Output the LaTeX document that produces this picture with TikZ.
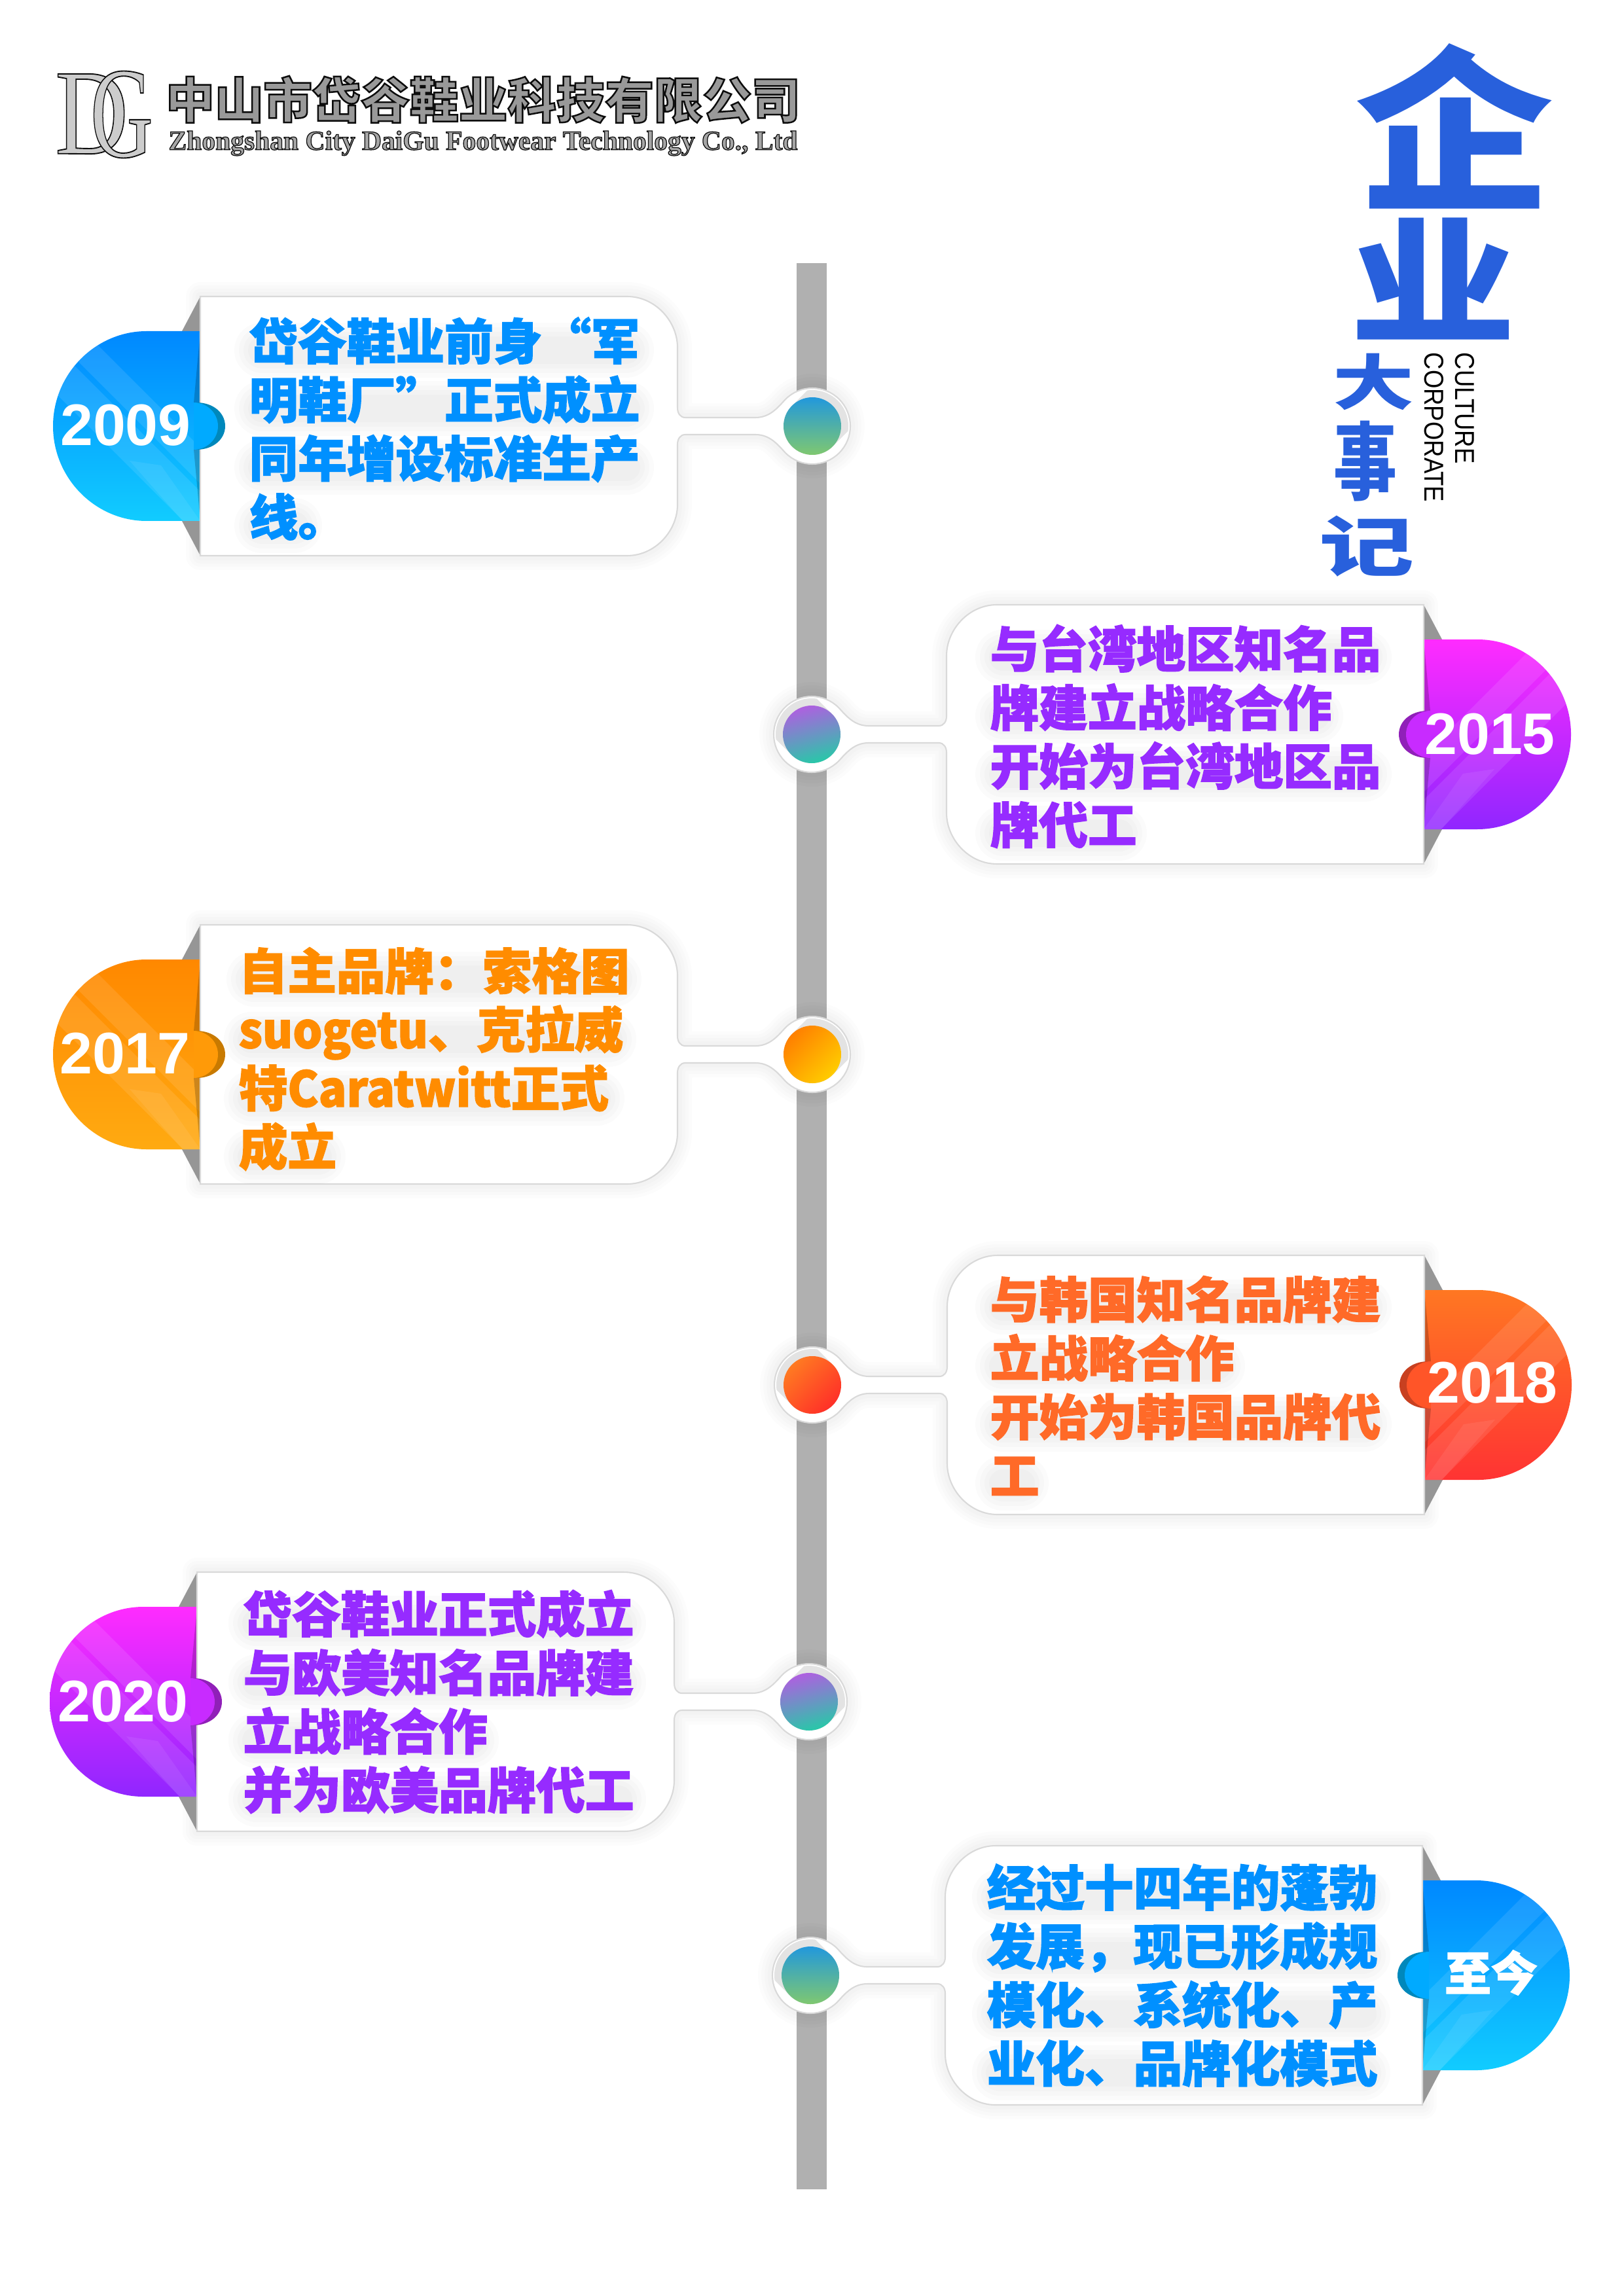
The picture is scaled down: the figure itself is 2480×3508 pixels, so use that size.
\documentclass[tikz,border=0pt]{standalone}
\usepackage{fontspec}
\setmainfont{Liberation Sans}
\newfontfamily\cjk{Noto Sans CJK SC}[BoldFeatures={FakeBold=2}]
\newfontfamily\logoen{Liberation Serif}
\newfontfamily\cjkplain{Noto Sans CJK SC}
\newcommand{\bev}[2][0.45]{\special{pdf:code q 2 Tr #1 w 0.05 0.05 0.05 RG}#2\special{pdf:code Q}}
\definecolor{spinec}{HTML}{B0B0B0}
\definecolor{titleblue}{HTML}{2860DC}
\definecolor{blueA}{HTML}{0088FF}\definecolor{blueB}{HTML}{11CCFF}\definecolor{blueT}{HTML}{0090FF}\definecolor{blueD}{HTML}{0088BB}\definecolor{blueM}{HTML}{00AAFF}
\definecolor{purA}{HTML}{FF2BFF}\definecolor{purB}{HTML}{9026FF}\definecolor{purT}{HTML}{962BFF}\definecolor{purD}{HTML}{9020B8}\definecolor{purM}{HTML}{C82BFF}
\definecolor{oraA}{HTML}{FF8800}\definecolor{oraB}{HTML}{FFAA11}\definecolor{oraT}{HTML}{FF8C00}\definecolor{oraD}{HTML}{C87A00}\definecolor{oraM}{HTML}{FF9A08}
\definecolor{redA}{HTML}{FF7722}\definecolor{redB}{HTML}{FF3333}\definecolor{redT}{HTML}{FF6A28}\definecolor{redD}{HTML}{C84020}\definecolor{redM}{HTML}{FF5528}
\definecolor{bubA}{HTML}{2298DC}\definecolor{bubB}{HTML}{7FC870}
\definecolor{bubC}{HTML}{AE60E0}\definecolor{bubD}{HTML}{28C8A8}
\definecolor{bubE}{HTML}{FF8000}\definecolor{bubF}{HTML}{FFCC00}
\definecolor{bubG}{HTML}{FF7A22}\definecolor{bubH}{HTML}{FF3028}
\tikzset{
 bubblue/.style={top color=bubA,bottom color=bubB},
 bubpur/.style={top color=bubC,bottom color=bubD},
 bubora/.style={top color=bubE,bottom color=bubF},
 bubred/.style={top color=bubG,bottom color=bubH}
}
\def\cardshape{(0,-198) -- (652,-198) .. controls (695,-198) and (729,-160) .. (729,-120) -- (729,-28) .. controls (729,-20) and (733,-13) .. (741,-13) -- (848,-13) .. controls (870,-13) and (882,-28) .. (894,-41) arc[start angle=225,end angle=495,radius=58] .. controls (882,28) and (870,13) .. (848,13) -- (741,13) .. controls (733,13) and (729,20) .. (729,28) -- (729,120) .. controls (729,160) and (695,198) .. (652,198) -- (0,198) -- cycle}
\def\tabshape{(0,-145) -- (-82,-145) .. controls (-160,-145) and (-225,-80) .. (-225,0) .. controls (-225,80) and (-160,145) .. (-82,145) -- (0,145) -- cycle}
\newcommand{\band}[3]{\fill[#3] (-300,#1-300) -- (0,#1) -- (0,#2) -- (-300,#2-300) -- cycle;}
% #1 scale sign, #2 x of card edge, #3 y centre, #4 top colour, #5 bottom colour, #6 dark, #7 mid, #8 bubble style, #9 bubble shading angle
\newcommand{\card}[9]{%
\begin{scope}[shift={(#2,#3)},xscale=#1]
 \foreach \w in {44,34,24,14}{\draw[black,opacity=.012,line width=\w*.24pt,line join=round] \cardshape;}
 \fill[spinec!85!black] (0,-198) -- (-28,-145) -- (0,-145) -- cycle;
 \fill[spinec!85!black] (0,198) -- (-28,145) -- (0,145) -- cycle;
 \shade[top color=#4,bottom color=#5] \tabshape;
 \begin{scope}
  \clip \tabshape;
  \band{33}{88}{white,opacity=.1}
  \band{100}{171}{white,opacity=.1}
  \fill[white,opacity=.07] (-108,53) -- (-27,145) -- (0,145) -- (-60,60) -- cycle;
  \fill[black,opacity=.2] (0,36) -- (-10,36) -- (0,145) -- cycle;
  \fill[black,opacity=.2] (0,-36) -- (-10,-36) -- (0,-145) -- cycle;
 \end{scope}
 \path[fill=white,draw=black!15,line width=.5pt] \cardshape;
 \fill[#6] (-6,-36) .. controls (20,-36) and (38,-20) .. (38,0) .. controls (38,20) and (20,36) .. (-6,36) -- cycle;
 \fill[#7] (-10,-36) .. controls (10,-36) and (27,-20) .. (27,0) .. controls (27,20) and (10,36) .. (-10,36) -- cycle;
 \begin{scope}
  \clip (935,0) circle[radius=55];
  \draw[black!11,line width=88*.24pt,line cap=round] (935,0) -- (975,-40);
 \end{scope}
 \shade[#8,shading angle=#9] (935,0) circle[radius=44];
\end{scope}}
\newcommand{\tbar}[3]{\foreach \w in {84,70,56,42}{\draw[black,opacity=.014,line width=\w*.24pt,line cap=round] (#1+20,#3+14) -- (#2-20,#3+14);}}
\tikzset{
 cardtext/.style={anchor=west,align=left,inner sep=0pt,font=\cjk\bfseries\fontsize{17.9}{21.5}\selectfont},
 yeartext/.style={anchor=center,inner sep=0pt,text=white,font=\bfseries\fontsize{21.5}{24}\selectfont},
 brush/.style={anchor=center,inner sep=0pt,text=titleblue}
}
\begin{document}
\begin{tikzpicture}[x=.24pt,y=-.24pt]
\useasboundingbox (0,0) rectangle (2480,3508);
\fill[white] (0,0) rectangle (2480,3508);
\fill[spinec] (1217,402) rectangle (1263,3345);

\card{1}{306}{651}{blueA}{blueB}{blueD}{blueM}{bubblue}{0}
\card{-1}{2175}{1122}{purA}{purB}{purD}{purM}{bubpur}{15}
\card{1}{306}{1611}{oraA}{oraB}{oraD}{oraM}{bubora}{45}
\card{-1}{2176}{2116}{redA}{redB}{redD}{redM}{bubred}{45}
\card{1}{301}{2600}{purA}{purB}{purD}{purM}{bubpur}{15}
\card{-1}{2173}{3018}{blueA}{blueB}{blueD}{blueM}{bubblue}{0}

\tbar{380}{977}{521}\tbar{380}{977}{610}\tbar{380}{977}{700}\tbar{380}{470}{789}
\tbar{1512}{2104}{990}\tbar{1512}{2030}{1080}\tbar{1512}{2104}{1169}\tbar{1512}{1730}{1259}
\tbar{368}{958}{1482}\tbar{364}{950}{1574}\tbar{364}{932}{1664}\tbar{364}{506}{1753}
\tbar{1512}{2104}{1983}\tbar{1512}{1880}{2073}\tbar{1512}{2104}{2162}\tbar{1512}{1580}{2252}
\tbar{371}{965}{2466}\tbar{371}{965}{2556}\tbar{371}{740}{2645}\tbar{371}{965}{2735}
\tbar{1507}{2102}{2884}\tbar{1507}{2102}{2974}\tbar{1507}{2102}{3063}\tbar{1507}{2102}{3153}

\node[cardtext,text=blueT] (t1) at (380,655) {岱谷鞋业前身“军\\明鞋厂”正式成立\\同年增设标准生产\\线。};
\node[cardtext,text=purT] (t2) at (1512,1125) {与台湾地区知名品\\牌建立战略合作\\开始为台湾地区品\\牌代工};
\node[cardtext,text=oraT] (t3) at (364,1618) {自主品牌：索格图\\\scalebox{.95}[1]{suogetu}、克拉威\\特\scalebox{.95}[1]{Caratwitt}正式\\成立};
\node[cardtext,text=redT] (t4) at (1512,2117) {与韩国知名品牌建\\立战略合作\\开始为韩国品牌代\\工};
\node[cardtext,text=purT] (t5) at (371,2600) {岱谷鞋业正式成立\\与欧美知名品牌建\\立战略合作\\并为欧美品牌代工};
\node[cardtext,text=blueT] (t6) at (1507,3018) {经过十四年的蓬勃\\发展，现已形成规\\模化、系统化、产\\业化、品牌化模式};

\node[yeartext] (y1) at (192,650) {2009};
\node[yeartext] (y2) at (2276,1122) {2015};
\node[yeartext] (y3) at (191,1610) {2017};
\node[yeartext] (y4) at (2280,2113) {2018};
\node[yeartext] (y5) at (188,2600) {2020};
\node[yeartext,font=\cjk\bfseries\fontsize{17}{20}\selectfont] (y6) at (2278,3014) {至今};

% title
\node[brush,font=\cjkplain\bfseries\fontsize{65}{65}\selectfont] (q) at (2222,193) {\scalebox{1.12}[1]{企}};
\node[brush,font=\cjkplain\bfseries\fontsize{50}{50}\selectfont] (ye) at (2190,426) {\scalebox{1.22}[1]{业}};
\node[brush,font=\cjkplain\bfseries\fontsize{22}{22}\selectfont] (da) at (2098,583) {\scalebox{1.35}[1]{大}};
\node[brush,font=\cjkplain\bfseries\fontsize{31}{31}\selectfont] (shi) at (2086,705) {\scalebox{.75}[1]{事}};
\node[brush,font=\cjkplain\bfseries\fontsize{24}{24}\selectfont] (ji) at (2088,835) {\scalebox{1.45}[1]{记}};
\node[rotate=-90,anchor=west,inner sep=0pt,font=\fontsize{10}{12}\selectfont] (corp) at (2191,538) {\scalebox{.876}[1]{CORPORATE}};
\node[rotate=-90,anchor=west,inner sep=0pt,font=\fontsize{10}{12}\selectfont] (cult) at (2238,538) {\scalebox{.876}[1]{CULTURE}};

% logo
\node[anchor=center,inner sep=0pt,text=black!20,font=\logoen\fontsize{44.7}{45}\selectfont] (logoD) at (140,174) {\scalebox{.83}[1]{\bev{D}}};
\node[anchor=center,inner sep=0pt,text=black!20,font=\logoen\fontsize{47.5}{48}\selectfont] (logoG) at (186,175) {\scalebox{.67}[1]{\bev{G}}};
\node[anchor=center,inner sep=0pt,text=black!40,font=\cjkplain\bfseries\fontsize{17.9}{20}\selectfont] (logocn) at (738,152) {\bev[0.6]{中山市岱谷鞋业科技有限公司}};
\node[anchor=center,inner sep=0pt,text=black!35,font=\logoen\bfseries\fontsize{9.97}{11}\selectfont] (logoen) at (738,219) {\bev[0.3]{Zhongshan City DaiGu Footwear Technology Co., Ltd}};
\end{tikzpicture}
\end{document}
